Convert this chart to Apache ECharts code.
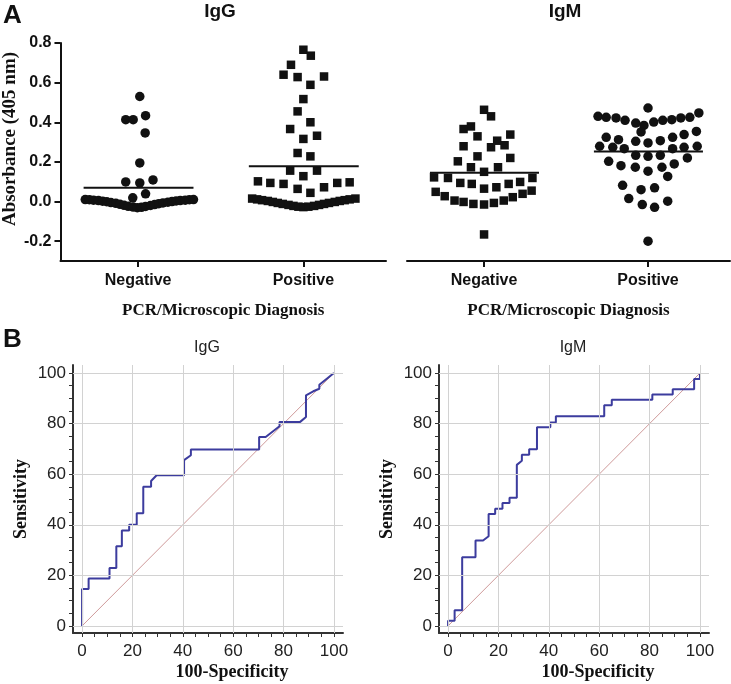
<!DOCTYPE html>
<html>
<head>
<meta charset="utf-8">
<title>IgG / IgM</title>
<script src="https://cdn.jsdelivr.net/npm/echarts@6/dist/echarts.min.js"></script>
<style>
html, body { margin: 0; padding: 0; background: #fff; }
#main { width: 731px; height: 684px; }
</style>
</head>
<body>
<div id="main"></div>
<script>
// panel A: [jitter, absorbance] per sample
var groups = ['Negative', 'Positive'];

var iggNeg = [
  [0.02, 0.53], [-0.15, 0.413], [-0.06, 0.413], [0.09, 0.433], [0.085, 0.346],
  [0.02, 0.195], [-0.15, 0.099], [0.02, 0.094], [0.18, 0.109], [0.09, 0.039], [-0.065, 0.019],
  [-0.64, 0.010], [-0.59, 0.009], [-0.54, 0.007], [-0.48, 0.005], [-0.43, 0.002], [-0.38, -0.001],
  [-0.33, -0.005], [-0.27, -0.009], [-0.22, -0.014], [-0.17, -0.019], [-0.12, -0.024], [-0.06, -0.028],
  [-0.01, -0.031], [0.04, -0.029], [0.09, -0.025], [0.15, -0.020], [0.20, -0.015], [0.25, -0.011],
  [0.30, -0.007], [0.36, -0.003], [0.41, 0.000], [0.46, 0.003], [0.51, 0.005], [0.57, 0.007],
  [0.62, 0.009], [0.67, 0.010]
];

var iggPos = [
  [0.00, 0.766], [0.09, 0.736], [-0.15, 0.690], [-0.24, 0.640], [-0.07, 0.628], [0.25, 0.631],
  [0.085, 0.589], [0.00, 0.517], [-0.07, 0.455], [0.085, 0.400], [-0.16, 0.366], [0.165, 0.332],
  [0.00, 0.316], [-0.07, 0.245], [0.085, 0.228], [-0.16, 0.156], [0.165, 0.156], [0.00, 0.128],
  [-0.55, 0.102], [-0.40, 0.094], [-0.24, 0.089], [-0.07, 0.064], [0.085, 0.044], [0.25, 0.072],
  [0.41, 0.094], [0.56, 0.097],
  [-0.62, 0.015], [-0.56, 0.011], [-0.50, 0.007], [-0.43, 0.003], [-0.37, -0.002], [-0.31, -0.007],
  [-0.25, -0.012], [-0.18, -0.017], [-0.12, -0.022], [-0.06, -0.026], [0.00, -0.028], [0.06, -0.026],
  [0.13, -0.022], [0.19, -0.017], [0.25, -0.012], [0.31, -0.007], [0.38, -0.002], [0.44, 0.003],
  [0.50, 0.007], [0.56, 0.011], [0.63, 0.015]
];

var igmNeg = [
  [0.00, 0.463], [0.085, 0.430], [-0.16, 0.379], [-0.25, 0.366], [-0.08, 0.329], [0.32, 0.338],
  [0.16, 0.307], [0.25, 0.284], [-0.25, 0.279], [0.085, 0.274], [-0.08, 0.228], [0.32, 0.220],
  [-0.32, 0.203], [-0.16, 0.173], [0.17, 0.173], [0.00, 0.150],
  [-0.61, 0.122], [-0.44, 0.119], [-0.29, 0.094], [-0.15, 0.089], [0.00, 0.065], [0.15, 0.072],
  [0.30, 0.089], [0.44, 0.099], [0.59, 0.119],
  [-0.59, 0.049], [-0.48, 0.027], [-0.36, 0.005], [-0.25, -0.002], [-0.13, -0.012], [0.00, -0.015],
  [0.12, -0.007], [0.24, 0.005], [0.35, 0.022], [0.47, 0.039], [0.58, 0.055],
  [0.00, -0.166]
];

var igmPos = [
  [0.00, 0.472],
  [-0.61, 0.430], [-0.51, 0.425], [-0.39, 0.422], [-0.28, 0.410], [-0.15, 0.396], [-0.05, 0.384],
  [0.07, 0.401], [0.18, 0.410], [0.29, 0.413], [0.40, 0.422], [0.51, 0.425], [0.62, 0.447],
  [-0.085, 0.351],
  [-0.51, 0.324], [-0.36, 0.312], [-0.15, 0.304], [0.00, 0.296], [0.15, 0.307], [0.30, 0.324],
  [0.44, 0.338], [0.59, 0.354],
  [-0.59, 0.279], [-0.43, 0.274], [-0.29, 0.267], [0.30, 0.267], [0.44, 0.274], [0.60, 0.279],
  [-0.15, 0.233], [0.00, 0.228], [0.15, 0.233],
  [-0.48, 0.203], [0.48, 0.220], [0.32, 0.190],
  [-0.33, 0.181], [-0.155, 0.173], [0.17, 0.173], [0.00, 0.153], [0.24, 0.127],
  [-0.31, 0.082], [-0.085, 0.060], [0.08, 0.069],
  [-0.235, 0.015], [-0.07, -0.015], [0.08, -0.029], [0.24, 0.002],
  [0.00, -0.200]
];

// group means: igg neg, igg pos, igm neg, igm pos
var means = [0.069, 0.178, 0.145, 0.253];

var absTicks = [-0.2, 0, 0.2, 0.4, 0.6, 0.8];

// panel B: ROC curves [100-specificity, sensitivity]
var rocIgG = [
  [0, 0], [0, 14.6], [2.6, 14.6], [2.6, 18.8], [10.9, 18.8], [10.9, 22.9], [13.6, 22.9],
  [13.6, 31.5], [15.8, 31.5], [15.8, 37.7], [18.7, 37.7], [18.7, 40], [21.7, 40], [21.7, 44.6],
  [24.3, 44.6], [24.3, 55], [27.4, 55], [27.4, 57.3], [29.6, 59.6], [40.5, 59.6], [40.5, 65.6],
  [43.2, 67.5], [43.2, 69.8], [70.3, 69.8], [70.3, 74.7], [72.9, 74.7], [78.4, 79], [78.4, 80.7],
  [86.6, 80.7], [88.9, 82.6], [88.9, 91.2], [91.8, 92.8], [94.2, 93.8], [94.2, 95.4], [100, 100]
];

var rocIgM = [
  [0, 0], [0, 2], [2.6, 2], [2.6, 6.2], [5.6, 6.2], [5.6, 27.2], [10.9, 27.2], [10.9, 33.8],
  [13.9, 33.8], [16.1, 35.5], [16.1, 44.3], [18.7, 44.3], [18.7, 46.3], [21.6, 46.3], [21.6, 48.6],
  [24.4, 48.6], [24.4, 50.7], [27.3, 50.7], [27.3, 63.7], [29.3, 65.3], [29.3, 67.7], [32.2, 67.7],
  [32.2, 69.9], [35.3, 69.9], [35.3, 78.6], [40.6, 78.6], [40.6, 80.5], [42.8, 80.5], [42.8, 82.9],
  [62, 82.9], [62, 87.3], [65, 87.3], [65, 89.5], [81.1, 89.5], [81.1, 91.5], [89.2, 91.5],
  [89.2, 93.6], [97.7, 93.6], [97.7, 97.7], [100, 97.7], [100, 100]
];

var chance = [[0, 0], [100, 100]];
var rocMajor = [0, 20, 40, 60, 80, 100];
var rocMinor = [0, 5, 10, 15, 20, 25, 30, 35, 40, 45, 50, 55, 60, 65, 70, 75, 80, 85, 90, 95, 100];

var chart = echarts.init(document.getElementById('main'));

var black = '#111';
var sans = 'Liberation Sans';
var serif = 'Liberation Serif';

function place(points, center) {
  return points.map(function (p) { return [center + p[0], p[1]]; });
}

function meanLine(m, center) {
  return [[center - 0.66, m], [center + 0.67, m]];
}

function dotAxisX(gi) {
  return {
    gridIndex: gi, type: 'value', min: 0.06, max: 4.0,
    axisLine: { show: true, onZero: false, lineStyle: { color: black, width: 2 } },
    axisTick: { show: true, customValues: [1, 3], length: 6, lineStyle: { color: black, width: 2 } },
    axisLabel: {
      customValues: [1, 3], margin: 12,
      formatter: function (v) { return v < 2 ? groups[0] : groups[1]; },
      fontFamily: sans, fontWeight: 'bold', fontSize: 16, color: black
    },
    splitLine: { show: false },
    name: 'PCR/Microscopic Diagnosis', nameLocation: 'middle', nameGap: 41,
    nameTextStyle: { fontFamily: serif, fontWeight: 'bold', fontSize: 17, color: black }
  };
}

function rocAxisX(gi) {
  return {
    gridIndex: gi, type: 'value', min: -3.6, max: 103.6,
    axisLine: { show: true, onZero: false, lineStyle: { color: '#333', width: 2 } },
    axisTick: { show: true, customValues: rocMinor, length: 4, lineStyle: { color: '#333' } },
    axisLabel: { customValues: rocMajor, margin: 10, fontFamily: sans, fontSize: 17, color: '#222' },
    splitLine: { show: false },
    name: '100-Specificity', nameLocation: 'middle', nameGap: 30,
    nameTextStyle: { fontFamily: serif, fontWeight: 'bold', fontSize: 18, color: black, padding: [0, 0, 0, 48] }
  };
}

function rocAxisY(gi) {
  return {
    gridIndex: gi, type: 'value', min: -2.8, max: 103.2,
    axisLine: { show: true, onZero: false, lineStyle: { color: '#333', width: 2 } },
    axisTick: { show: true, customValues: rocMinor, length: 4, lineStyle: { color: '#333' } },
    axisLabel: { customValues: rocMajor, margin: 7, fontFamily: sans, fontSize: 17, color: '#222' },
    splitLine: { show: false },
    name: 'Sensitivity', nameLocation: 'middle', nameGap: 43,
    nameTextStyle: { fontFamily: serif, fontWeight: 'bold', fontSize: 18, color: black }
  };
}

function rocGrid(xi) {
  return {
    type: 'line', xAxisIndex: xi, yAxisIndex: xi, data: chance, z: 2,
    symbol: 'none', silent: true,
    lineStyle: { color: '#cf9a9a', width: 1 },
    markLine: {
      silent: true, symbol: 'none', label: { show: false },
      lineStyle: { color: '#d2d2d2', width: 1, type: 'solid' },
      data: rocMajor.map(function (v) { return { xAxis: v }; })
        .concat(rocMajor.map(function (v) { return { yAxis: v }; }))
    }
  };
}

function rocCurve(xi, pts) {
  return {
    type: 'line', xAxisIndex: xi, yAxisIndex: xi, data: pts, z: 3,
    symbol: 'none', lineStyle: { color: '#3c3c9e', width: 2 }
  };
}

function dots(xi, pts, center, shape, size) {
  return {
    type: 'scatter', xAxisIndex: xi, yAxisIndex: xi, data: place(pts, center),
    symbol: shape, symbolSize: size, itemStyle: { color: black, opacity: 1 }
  };
}

function meanSeries(xi, m, center) {
  return {
    type: 'line', xAxisIndex: xi, yAxisIndex: xi, data: meanLine(m, center), z: 4,
    symbol: 'none', lineStyle: { color: black, width: 2 }
  };
}

var option = {
  animation: false,
  backgroundColor: '#fff',
  title: [
    { text: 'IgG', left: 220, top: 2, textAlign: 'center', padding: 0,
      textStyle: { fontFamily: sans, fontWeight: 'bold', fontSize: 19, color: black } },
    { text: 'IgM', left: 565, top: 2, textAlign: 'center', padding: 0,
      textStyle: { fontFamily: sans, fontWeight: 'bold', fontSize: 19, color: black } },
    { text: 'IgG', left: 207, top: 340, textAlign: 'center', padding: 0,
      textStyle: { fontFamily: sans, fontWeight: 'normal', fontSize: 16, color: '#222' } },
    { text: 'IgM', left: 573, top: 340, textAlign: 'center', padding: 0,
      textStyle: { fontFamily: sans, fontWeight: 'normal', fontSize: 16, color: '#222' } }
  ],
  graphic: [
    { type: 'text', left: 3, top: 3, style: { text: 'A', font: 'bold 26px "Liberation Sans"', fill: black } },
    { type: 'text', left: 3, top: 327, style: { text: 'B', font: 'bold 26px "Liberation Sans"', fill: black } }
  ],
  grid: [
    { left: 60, top: 43, width: 326, height: 218 },
    { left: 407, top: 43, width: 323, height: 218 },
    { left: 73, top: 365, width: 270, height: 268 },
    { left: 439, top: 365, width: 270, height: 268 }
  ],
  xAxis: [dotAxisX(0), dotAxisX(1), rocAxisX(2), rocAxisX(3)],
  yAxis: [
    {
      gridIndex: 0, type: 'value', min: -0.3, max: 0.8,
      axisLine: { show: true, onZero: false, lineStyle: { color: black, width: 2 } },
      axisTick: { show: true, customValues: absTicks, length: 6, lineStyle: { color: black, width: 2 } },
      axisLabel: {
        customValues: absTicks, margin: 9,
        formatter: function (v) { return v.toFixed(1); },
        fontFamily: sans, fontWeight: 'bold', fontSize: 16, color: black
      },
      splitLine: { show: false },
      name: 'Absorbance (405 nm)', nameLocation: 'middle', nameGap: 37,
      nameTextStyle: { fontFamily: serif, fontWeight: 'bold', fontSize: 19, color: black, padding: [0, 0, 0, 26] }
    },
    { gridIndex: 1, type: 'value', min: -0.3, max: 0.8, show: false },
    rocAxisY(2),
    rocAxisY(3)
  ],
  series: [
    dots(0, iggNeg, 1, 'circle', 9.5),
    dots(0, iggPos, 3, 'rect', 8.5),
    meanSeries(0, means[0], 1),
    meanSeries(0, means[1], 3),
    dots(1, igmNeg, 1, 'rect', 8.5),
    dots(1, igmPos, 3, 'circle', 9.5),
    meanSeries(1, means[2], 1),
    meanSeries(1, means[3], 3),
    rocGrid(2),
    rocCurve(2, rocIgG),
    rocGrid(3),
    rocCurve(3, rocIgM)
  ]
};

chart.setOption(option);
</script>
</body>
</html>
